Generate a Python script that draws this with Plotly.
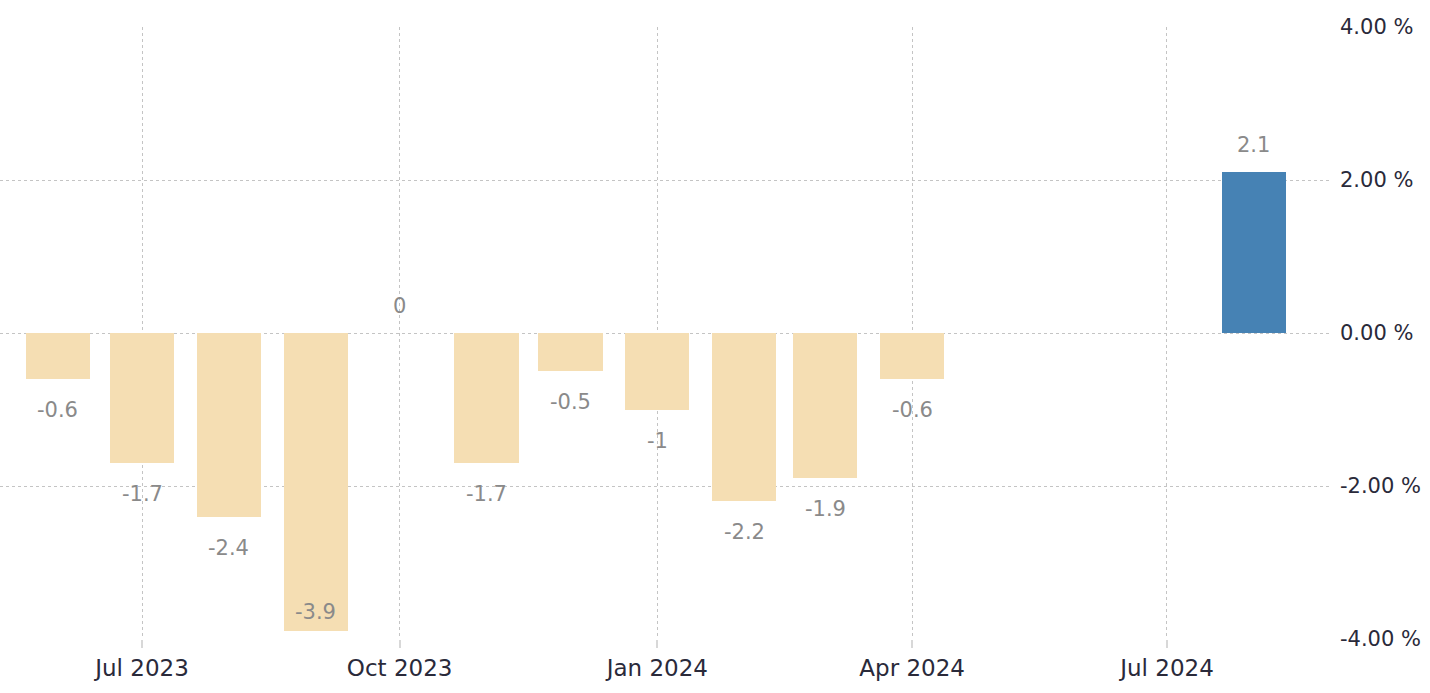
import plotly.graph_objects as go

# Data
months = ["2023-06-01", "2023-07-01", "2023-08-01", "2023-09-01", "2023-10-01",
          "2023-11-01", "2023-12-01", "2024-01-01", "2024-02-01", "2024-03-01",
          "2024-04-01", "2024-08-01"]
values = [-0.6, -1.7, -2.4, -3.9, 0.0, -1.7, -0.5, -1.0, -2.2, -1.9, -0.6, 2.1]
highlight_last = True

y_ticks = [-4, -2, 0, 2, 4]
y_tick_labels = ["-4.00 %", "-2.00 %", "0.00 %", "2.00 %", "4.00 %"]
y_range = [-4, 4]
x_range = ["2023-05-11 07:00", "2024-08-28 05:00"]

NEG_COLOR = "#F5DEB3"
POS_COLOR = "#4682B4"
FONT = "DejaVu Sans"

colors = [NEG_COLOR] * len(values)
if highlight_last:
    colors[-1] = POS_COLOR

bar_width_ms = 22.9 * 24 * 3600 * 1000

fig = go.Figure()
fig.add_trace(go.Bar(
    x=months, y=values, marker=dict(color=colors, line=dict(width=0)),
    width=[bar_width_ms] * len(values), hoverinfo="x+y", showlegend=False,
))

px_per_unit = 612 / (y_range[1] - y_range[0])
for m, v in zip(months, values):
    if v < 0:
        shift = -31
        # if label would fall below the plot area, put it inside the bar end
        if v * px_per_unit + shift < y_range[0] * px_per_unit + 10:
            shift = 19
    else:
        shift = 27
    fig.add_annotation(x=m, y=v, text=f"{v:g}", showarrow=False, yshift=shift,
                       font=dict(family=FONT, size=21, color="#8a8a8a"))

fig.update_layout(
    width=1430, height=693,
    margin=dict(l=0, r=100, t=27, b=54, autoexpand=False),
    paper_bgcolor="white", plot_bgcolor="white",
    bargap=0,
    font=dict(family=FONT, size=21, color="#2a2a3a"),
)
fig.update_xaxes(
    type="date", range=x_range, dtick="M3", tick0="2023-07-01",
    tickformat="%b %Y", showgrid=True, gridcolor="#c4c4c4", griddash="dot",
    gridwidth=1, ticks="outside", ticklen=8, tickwidth=2, tickcolor="#d8d8d8",
    tickfont=dict(family=FONT, size=23, color="#2a2a3a"),
    showline=False, zeroline=False, automargin=False,
)
fig.update_yaxes(
    range=y_range, tickmode="array", tickvals=y_ticks, ticktext=y_tick_labels,
    side="right", showgrid=True, gridcolor="#c4c4c4", griddash="dot", gridwidth=1,
    zeroline=False, showline=False, ticks="", ticklabelstandoff=9,
    tickfont=dict(family=FONT, size=21, color="#2a2a3a"), automargin=False,
)

fig.write_html(
    "out.html",
    config={"displayModeBar": False},
    post_script="document.body.style.margin='0';document.body.style.padding='0';",
)
